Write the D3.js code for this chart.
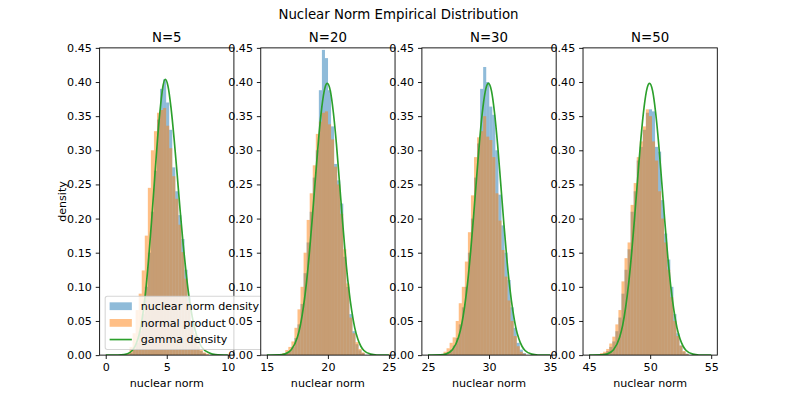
<!DOCTYPE html>
<html><head><meta charset="utf-8">
<script src="https://cdn.jsdelivr.net/npm/d3@7"></script>
<style>body{margin:0;background:#fff} text{font-family:"DejaVu Sans",sans-serif}</style>
</head><body><svg id="c" width="797" height="399"></svg>
<script>
// ---------- data ----------
const suptitle = "Nuclear Norm Empirical Distribution";
const panelTitles = ["N=5", "N=20", "N=30", "N=50"];
const xLabel = "nuclear norm";
const yLabel = "density";
const legendLabels = ["nuclear norm density", "normal product", "gamma density"];
const xLimMin = [-0.5, 14.5, 24.5, 44.5];
const xLimMax = [10.5, 25.5, 35.5, 55.5];
const xTickValues = [[0, 5, 10], [15, 20, 25], [25, 30, 35], [45, 50, 55]];
const yTickValues = [0, 0.05, 0.10, 0.15, 0.20, 0.25, 0.30, 0.35, 0.40, 0.45];
const yLim = [0, 0.45];
const binWidth = 0.25;
const binStart = [1.70, 16.26, 26.27, 45.90];

// nuclear norm density histograms (blue)
const nuclearN5  = [0.001, 0.003, 0.008, 0.018, 0.035, 0.06, 0.10, 0.15, 0.21, 0.27, 0.345, 0.39, 0.404, 0.37, 0.33, 0.275, 0.24, 0.205, 0.17, 0.125, 0.085, 0.05, 0.028, 0.013, 0.006, 0.003];
const nuclearN20 = [0.001, 0.003, 0.006, 0.012, 0.025, 0.045, 0.075, 0.12, 0.165, 0.21, 0.26, 0.30, 0.388, 0.447, 0.435, 0.388, 0.335, 0.28, 0.256, 0.222, 0.144, 0.10, 0.06, 0.035, 0.016, 0.007, 0.003];
const nuclearN30 = [0.002, 0.004, 0.008, 0.014, 0.025, 0.045, 0.07, 0.10, 0.15, 0.20, 0.26, 0.31, 0.39, 0.422, 0.40, 0.364, 0.352, 0.30, 0.235, 0.19, 0.15, 0.11, 0.07, 0.04, 0.018, 0.008, 0.003];
const nuclearN50 = [0.001, 0.003, 0.006, 0.012, 0.02, 0.035, 0.055, 0.09, 0.125, 0.155, 0.21, 0.24, 0.285, 0.305, 0.33, 0.355, 0.36, 0.357, 0.305, 0.298, 0.227, 0.178, 0.14, 0.10, 0.06, 0.032, 0.014, 0.005, 0.002];

// normal product histograms (orange)
const normalN5  = [0.002, 0.012, 0.032, 0.066, 0.09, 0.124, 0.175, 0.245, 0.30, 0.328, 0.355, 0.359, 0.362, 0.336, 0.303, 0.262, 0.229, 0.191, 0.151, 0.112, 0.077, 0.05, 0.032, 0.018, 0.009, 0.004, 0.002];
const normalN20 = [0.003, 0.0075, 0.012, 0.02, 0.04, 0.067, 0.10, 0.15, 0.198, 0.237, 0.278, 0.324, 0.342, 0.355, 0.357, 0.338, 0.316, 0.276, 0.25, 0.207, 0.155, 0.105, 0.055, 0.032, 0.019, 0.009, 0.004];
const normalN30 = [0.005, 0.01, 0.018, 0.026, 0.05, 0.076, 0.10, 0.137, 0.18, 0.234, 0.29, 0.319, 0.328, 0.35, 0.32, 0.315, 0.29, 0.237, 0.197, 0.154, 0.115, 0.08, 0.05, 0.028, 0.013, 0.005, 0.002];
const normalN50 = [0.003, 0.005, 0.009, 0.017, 0.027, 0.045, 0.066, 0.108, 0.142, 0.165, 0.22, 0.252, 0.29, 0.313, 0.335, 0.36, 0.35, 0.313, 0.285, 0.24, 0.20, 0.165, 0.125, 0.085, 0.05, 0.028, 0.014, 0.006, 0.002];

// gamma density curves (green)
const gammaXN5  = [0, 1, 1.5, 2, 2.5, 2.75, 3, 3.25, 3.5, 3.75, 4, 4.25, 4.5, 4.7, 4.88, 5.1, 5.35, 5.6, 5.85, 6.1, 6.35, 6.6, 6.85, 7.1, 7.35, 7.6, 7.85, 8.5, 9, 10];
const gammaYN5  = [0, 0.0001, 0.0008, 0.004, 0.017, 0.031, 0.055, 0.09, 0.138, 0.195, 0.257, 0.318, 0.367, 0.395, 0.404, 0.394, 0.362, 0.317, 0.265, 0.211, 0.161, 0.118, 0.082, 0.055, 0.035, 0.021, 0.012, 0.003, 0.0007, 0];
const gammaXN20 = [15, 16, 16.5, 17, 17.5, 17.75, 18, 18.25, 18.5, 18.75, 19, 19.25, 19.5, 19.75, 19.95, 20.2, 20.45, 20.7, 20.95, 21.2, 21.45, 21.7, 21.95, 22.2, 22.45, 22.7, 22.95, 23.5, 24, 25];
const gammaYN20 = [0, 0.0003, 0.0018, 0.0077, 0.026, 0.044, 0.071, 0.107, 0.153, 0.207, 0.264, 0.319, 0.363, 0.391, 0.398, 0.387, 0.355, 0.309, 0.253, 0.196, 0.143, 0.099, 0.065, 0.040, 0.0235, 0.013, 0.0067, 0.0014, 0.0002, 0];
const gammaXN30 = [25, 26, 26.5, 27, 27.5, 27.75, 28, 28.25, 28.5, 28.75, 29, 29.25, 29.5, 29.75, 29.95, 30.2, 30.45, 30.7, 30.95, 31.2, 31.45, 31.7, 31.95, 32.2, 32.45, 32.7, 32.95, 33.5, 34, 35];
const gammaYN30 = [0, 0.0003, 0.0018, 0.0077, 0.026, 0.044, 0.071, 0.107, 0.153, 0.207, 0.264, 0.319, 0.363, 0.391, 0.398, 0.387, 0.355, 0.309, 0.253, 0.196, 0.143, 0.099, 0.065, 0.040, 0.0235, 0.013, 0.0067, 0.0014, 0.0002, 0];
const gammaXN50 = [45, 46, 46.5, 47, 47.5, 47.75, 48, 48.25, 48.5, 48.75, 49, 49.25, 49.5, 49.75, 49.95, 50.2, 50.45, 50.7, 50.95, 51.2, 51.45, 51.7, 51.95, 52.2, 52.45, 52.7, 52.95, 53.5, 54, 55];
const gammaYN50 = [0, 0.0003, 0.0018, 0.0077, 0.026, 0.044, 0.071, 0.107, 0.153, 0.207, 0.264, 0.319, 0.363, 0.391, 0.398, 0.387, 0.355, 0.309, 0.253, 0.196, 0.143, 0.099, 0.065, 0.040, 0.0235, 0.013, 0.0067, 0.0014, 0.0002, 0];

const nuclearSeries = [nuclearN5, nuclearN20, nuclearN30, nuclearN50];
const normalSeries = [normalN5, normalN20, normalN30, normalN50];
const gammaX = [gammaXN5, gammaXN20, gammaXN30, gammaXN50];
const gammaY = [gammaYN5, gammaYN20, gammaYN30, gammaYN50];

// ---------- drawing ----------
const W = 797, H = 399, sx = W / 800, sy = H / 400;
const fs = 10 * 80 / 72;          // 10pt at 80 dpi
const titleFs = 12 * 80 / 72;
const lw = 1.5 * 80 / 72;
const spineW = 0.8 * 80 / 72;
const tickLen = 3.5 * 80 / 72;
const axWraw = 0.775 * 800 / 4.6;
const axTop = 0.12 * 400 * sy, axBottom = 0.89 * 400 * sy;
const blue = "#1f77b4", orange = "#ff7f0e", green = "#2ca02c";

const svg = d3.select("#c");
svg.append("rect").attr("width", W).attr("height", H).attr("fill", "#fff");

svg.append("text").attr("x", W / 2).attr("y", 18.5).attr("text-anchor", "middle")
  .attr("font-size", titleFs).attr("fill", "#000").text(suptitle);

for (let i = 0; i < 4; i++) {
  const left = (100 + i * 1.2 * axWraw) * sx, right = left + axWraw * sx;
  const x = d3.scaleLinear().domain([xLimMin[i], xLimMax[i]]).range([left, right]);
  const y = d3.scaleLinear().domain(yLim).range([axBottom, axTop]);
  const g = svg.append("g");
  g.append("rect").attr("x", left).attr("y", axTop).attr("width", right - left)
    .attr("height", axBottom - axTop).attr("fill", "#fff");
  const cid = "clip" + i;
  g.append("clipPath").attr("id", cid).append("rect").attr("x", left).attr("y", axTop)
    .attr("width", right - left).attr("height", axBottom - axTop);
  const plot = g.append("g").attr("clip-path", `url(#${cid})`);

  const drawHist = (vals, color) => {
    plot.append("g").selectAll("rect").data(vals).join("rect")
      .attr("x", (d, k) => x(binStart[i] + k * binWidth))
      .attr("width", (d, k) => x(binStart[i] + (k + 1) * binWidth) - x(binStart[i] + k * binWidth))
      .attr("y", d => y(d))
      .attr("height", d => y(0) - y(d))
      .attr("fill", color).attr("fill-opacity", 0.5);
  };
  drawHist(nuclearSeries[i], blue);
  drawHist(normalSeries[i], orange);

  const pts = gammaX[i].map((v, k) => [v, gammaY[i][k]]);
  plot.append("path").datum(pts)
    .attr("d", d3.line().x(d => x(d[0])).y(d => y(d[1])).curve(d3.curveMonotoneX))
    .attr("fill", "none").attr("stroke", green).attr("stroke-width", lw);

  // axes
  const xa = g.append("g").attr("transform", `translate(0,${axBottom})`)
    .call(d3.axisBottom(x).tickValues(xTickValues[i]).tickFormat(d3.format("d"))
      .tickSize(tickLen).tickPadding(tickLen).tickSizeOuter(0));
  const ya = g.append("g").attr("transform", `translate(${left},0)`)
    .call(d3.axisLeft(y).tickValues(yTickValues).tickFormat(d3.format(".2f"))
      .tickSize(tickLen).tickPadding(tickLen).tickSizeOuter(0));
  [xa, ya].forEach(a => {
    a.select(".domain").remove();
    a.selectAll("line").attr("stroke", "#000").attr("stroke-width", spineW);
    a.selectAll("text").attr("font-size", fs).attr("fill", "#000")
      .attr("font-family", "DejaVu Sans, sans-serif");
  });
  g.append("rect").attr("x", left).attr("y", axTop).attr("width", right - left)
    .attr("height", axBottom - axTop).attr("fill", "none").attr("stroke", "#000")
    .attr("stroke-width", spineW);

  g.append("text").attr("x", (left + right) / 2).attr("y", 42).attr("text-anchor", "middle")
    .attr("font-size", titleFs).attr("fill", "#000").text(panelTitles[i]);
  g.append("text").attr("x", (left + right) / 2).attr("y", 387).attr("text-anchor", "middle")
    .attr("font-size", fs).attr("fill", "#000").text(xLabel);

  if (i === 0) {
    g.append("text").attr("transform", `translate(66,${(axTop + axBottom) / 2}) rotate(-90)`)
      .attr("text-anchor", "middle").attr("font-size", fs).attr("fill", "#000").text(yLabel);

    // legend
    const pad = 0.4 * fs, bap = 0.5 * fs, rowH = fs, spacing = 0.5 * fs;
    const bx = left + bap, bb = axBottom - bap;
    const bh = 2 * pad + 3 * rowH + 2 * spacing;
    const bt = bb - bh;
    const lg = g.append("g");
    const frame = lg.append("rect");
    const hx0 = bx + pad, hx1 = hx0 + 2 * fs, tx = hx1 + 0.8 * fs;
    let maxW = 0;
    legendLabels.forEach((lab, k) => {
      const cy = bt + pad + rowH / 2 + k * (rowH + spacing);
      if (k < 2) {
        lg.append("rect").attr("x", hx0).attr("y", cy - 0.35 * fs).attr("width", hx1 - hx0)
          .attr("height", 0.7 * fs).attr("fill", k === 0 ? blue : orange).attr("fill-opacity", 0.5);
      } else {
        lg.append("line").attr("x1", hx0).attr("x2", hx1).attr("y1", cy).attr("y2", cy)
          .attr("stroke", green).attr("stroke-width", lw);
      }
      const t = lg.append("text").attr("x", tx).attr("y", cy).attr("dy", "0.35em")
        .attr("font-size", fs).attr("fill", "#000").text(lab);
      maxW = Math.max(maxW, t.node().getComputedTextLength());
    });
    const bw = tx + maxW + pad - bx;
    frame.attr("x", bx).attr("y", bt).attr("width", bw).attr("height", bh)
      .attr("rx", 0.2 * fs).attr("fill", "#fff").attr("fill-opacity", 0.8)
      .attr("stroke", "#cccccc").attr("stroke-opacity", 0.8).attr("stroke-width", 1.1);
  }
}
</script></body></html>
